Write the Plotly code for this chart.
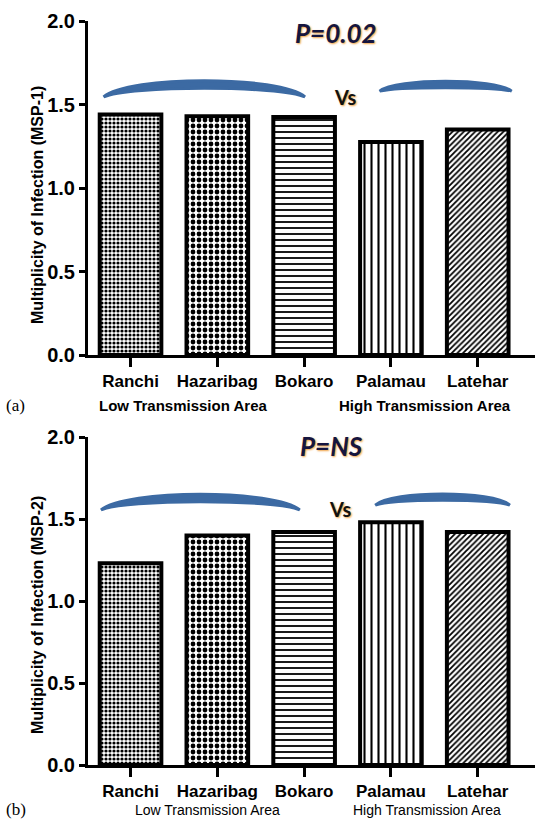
import plotly.graph_objects as go

categories = ["Ranchi", "Hazaribag", "Bokaro", "Palamau", "Latehar"]
msp1 = [1.44, 1.43, 1.425, 1.275, 1.35]
msp2 = [1.23, 1.40, 1.42, 1.48, 1.42]
yticks = [0.0, 0.5, 1.0, 1.5, 2.0]
ytick_text = ["0.0", "0.5", "1.0", "1.5", "2.0"]
p_values = ["P=0.02", "P=NS"]
ytitles = ["Multiplicity of Infection (MSP-1)", "Multiplicity of Infection (MSP-2)"]
panel_labels = ["(a)", "(b)"]
group_labels = ["Low Transmission Area", "High Transmission Area"]

shapes_pat = [".", ".", "-", "|", "/"]
sizes_pat = [4, 6, 6, 7, 4]
solid_pat = [0.5, 0.5, 0.3, 0.3, 0.45]

xs = list(range(len(categories)))
W, H = 538, 821
NARROW = "Liberation Sans Narrow, Arial Narrow, Liberation Sans, Arial"
ARIAL = "Liberation Sans, Arial"
BLUE = "#3c6aa3"

fig = go.Figure()
for i, vals in enumerate([msp1, msp2]):
    sfx = "" if i == 0 else "2"
    fig.add_trace(go.Bar(
        x=xs, y=vals, width=0.71,
        xaxis="x" + sfx, yaxis="y" + sfx,
        marker=dict(
            color="white",
            line=dict(color="black", width=4),
            pattern=dict(shape=shapes_pat, size=sizes_pat, solidity=solid_pat,
                         fgcolor="black", bgcolor="white", fillmode="replace"),
        ),
        showlegend=False, hoverinfo="skip",
    ))

def py(p):
    return 1 - p / H

xdom = [88 / W, 535 / W]
xax = dict(range=[-0.49, 4.66], domain=xdom, tickmode="array", tickvals=xs,
           ticktext=categories, showline=True, linecolor="black", linewidth=3,
           ticks="outside", ticklen=9, tickwidth=2.5, tickcolor="black",
           tickfont=dict(family=NARROW, size=17, color="black", weight="bold"),
           showgrid=False, zeroline=False, fixedrange=True, automargin=False)
yax = dict(range=[0, 2.0], tickmode="array", tickvals=yticks, ticktext=ytick_text,
           showline=True, linecolor="black", linewidth=3, ticks="outside",
           ticklen=6, tickwidth=2.5, tickcolor="black",
           tickfont=dict(family=ARIAL, size=20, color="black", weight="bold"),
           showgrid=False, zeroline=False, fixedrange=True, automargin=False)

fig.update_layout(
    width=W, height=H,
    margin=dict(l=0, r=0, t=0, b=0, pad=0),
    paper_bgcolor="white", plot_bgcolor="white",
    xaxis=dict(xax, anchor="y"),
    yaxis=dict(yax, domain=[py(355), py(21)], anchor="x"),
    xaxis2=dict(xax, anchor="y2"),
    yaxis2=dict(yax, domain=[py(765), py(437)], anchor="x2"),
)

ann = []
shp = []
panels = [
    dict(xr="x", yr="y", ytitle_y=205, p_x=336, p_y=33, vs_x=345, vs_y=97,
         lab_y=405, grp_y=405, grp_x=[183, 425], grp_bold=True, grp_size=15,
         arcs=[(-0.31, 2.01, 1.545, 1.62, 0.045), (2.87, 4.39, 1.58, 1.62, 0.038)]),
    dict(xr="x2", yr="y2", ytitle_y=615, p_x=331, p_y=446, vs_x=340, vs_y=509,
         lab_y=809, grp_y=810, grp_x=[207, 427], grp_bold=False, grp_size=14,
         arcs=[(-0.34, 1.95, 1.555, 1.628, 0.045), (2.82, 4.37, 1.585, 1.634, 0.038)]),
]

for i, p in enumerate(panels):
    ann.append(dict(text=ytitles[i], xref="paper", yref="paper", x=37 / W, y=py(p["ytitle_y"]),
                    textangle=-90, showarrow=False, xanchor="center", yanchor="middle",
                    font=dict(family=ARIAL, size=16, color="black", weight="bold")))
    ann.append(dict(text=p_values[i], xref="paper", yref="paper", x=p["p_x"] / W, y=py(p["p_y"]),
                    showarrow=False, xanchor="center", yanchor="middle",
                    font=dict(family="Lato, Open Sans, sans-serif", size=26, color="#15153f",
                              weight="bold", style="italic",
                              shadow="1px 1px 2px #f0a040")))
    ann.append(dict(text="Vs", xref="paper", yref="paper", x=p["vs_x"] / W, y=py(p["vs_y"]),
                    showarrow=False, xanchor="center", yanchor="middle",
                    font=dict(family="Lato, Open Sans, sans-serif", size=20, color="#111111",
                              weight="bold", shadow="1px 1px 2px #f0a040")))
    ann.append(dict(text=panel_labels[i], xref="paper", yref="paper", x=4 / W, y=py(p["lab_y"]),
                    showarrow=False, xanchor="left", yanchor="middle",
                    font=dict(family="Liberation Serif, DejaVu Serif, serif", size=17, color="black")))
    for j, g in enumerate(group_labels):
        ann.append(dict(text=g, xref="paper", yref="paper", x=p["grp_x"][j] / W, y=py(p["grp_y"]),
                        showarrow=False, xanchor="center", yanchor="middle",
                        font=dict(family=NARROW if p["grp_bold"] else ARIAL,
                                  size=p["grp_size"], color="black",
                                  weight="bold" if p["grp_bold"] else "normal")))
    for (x0, x1, ye, ypk, t) in p["arcs"]:
        span = x1 - x0
        ca = x0 + 0.12 * span
        cb = x1 - 0.12 * span
        cu = (8 * (ypk + t / 2) - 2 * ye) / 6
        cl = (8 * (ypk - t / 2) - 2 * ye) / 6
        path = (f"M {x0},{ye} C {ca},{cu} {cb},{cu} {x1},{ye} "
                f"C {cb},{cl} {ca},{cl} {x0},{ye} Z")
        shp.append(dict(type="path", path=path, xref=p["xr"], yref=p["yr"],
                        fillcolor=BLUE, line=dict(color=BLUE, width=3)))

fig.update_layout(annotations=ann, shapes=shp)
fig.write_html("out.html", config={"displayModeBar": False},
               post_script="document.body.style.margin='0px';document.body.style.overflow='hidden';")
